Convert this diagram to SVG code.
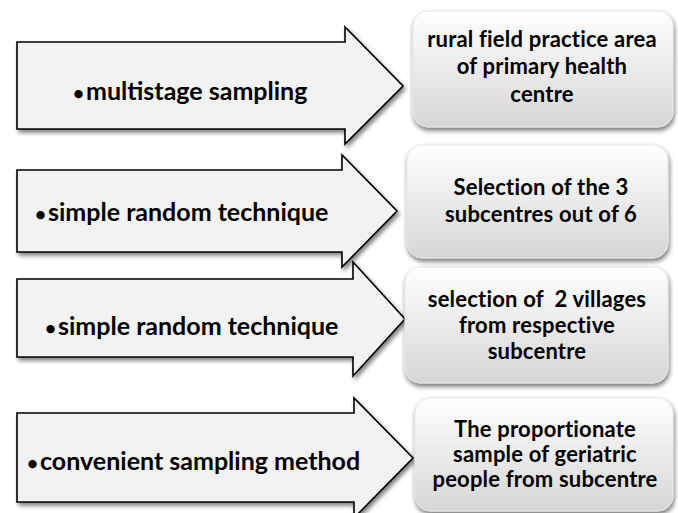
<svg xmlns="http://www.w3.org/2000/svg" width="678" height="513" viewBox="0 0 678 513">
<style>
.arrow{fill:#f2f2f2;stroke:#000;stroke-width:1.6;stroke-linejoin:miter;filter:url(#sh)}
.box{fill:url(#g);stroke:#e6e6e6;stroke-width:1;filter:url(#sh2)}
.at{font-family:Lato,"Liberation Sans",sans-serif;font-weight:bold;font-size:25px;fill:#000}
.bu{font-size:19px}
.bt{font-family:Lato,"Liberation Sans",sans-serif;font-weight:bold;font-size:22px;fill:#000;text-anchor:middle;letter-spacing:0.2px}
</style>
<defs>
<linearGradient id="g" x1="0" y1="0" x2="0" y2="1">
<stop offset="0" stop-color="#ffffff"/>
<stop offset="1" stop-color="#d6d6d6"/>
</linearGradient>
<filter id="sh" x="-10%" y="-10%" width="130%" height="140%">
<feGaussianBlur in="SourceAlpha" stdDeviation="2"/>
<feOffset dx="2" dy="3" result="b"/>
<feComponentTransfer><feFuncA type="linear" slope="0.5"/></feComponentTransfer>
<feMerge><feMergeNode/><feMergeNode in="SourceGraphic"/></feMerge>
</filter>
<filter id="sh2" x="-10%" y="-10%" width="130%" height="140%">
<feGaussianBlur in="SourceAlpha" stdDeviation="2.5"/>
<feOffset dx="1" dy="3" result="b"/>
<feComponentTransfer><feFuncA type="linear" slope="0.55"/></feComponentTransfer>
<feMerge><feMergeNode/><feMergeNode in="SourceGraphic"/></feMerge>
</filter>
</defs>
<rect width="678" height="513" fill="#fff"/>
<g id="connectors">
<g id="arrow1"><polygon class="arrow" points="17,42 345,42 345,27 403,86 345,144 345,129 17,129"/>
<text class="at" x="73" y="100"><tspan class="bu">•</tspan><tspan dx="2">multistage sampling</tspan></text></g>
<g id="arrow2"><polygon class="arrow" points="17,170 342,170 342,155 397,211 342,267 342,252 17,252"/>
<text class="at" x="35" y="221"><tspan class="bu">•</tspan><tspan dx="2">simple random technique</tspan></text></g>
<g id="arrow3"><polygon class="arrow" points="17,279 353,279 353,262 405,319 353,376 353,357 17,357"/>
<text class="at" x="45" y="335"><tspan class="bu">•</tspan><tspan dx="2">simple random technique</tspan></text></g>
<g id="arrow4"><polygon class="arrow" points="17,413 354,413 354,398 413,458 354,518 354,502 17,502"/>
<text class="at" x="27" y="470"><tspan class="bu">•</tspan><tspan dx="2">convenient sampling method</tspan></text></g>
</g>
<g id="box1"><rect class="box" x="413" y="11" width="260" height="116" rx="15"/>
<text class="bt" x="542" y="47">rural field practice area</text>
<text class="bt" x="542" y="74">of primary health</text>
<text class="bt" x="542" y="102">centre</text></g>
<g id="box2"><rect class="box" x="407" y="145" width="261" height="113" rx="15"/>
<text class="bt" x="541" y="195">Selection of the 3</text>
<text class="bt" x="541" y="222">subcentres out of 6</text></g>
<g id="box3"><rect class="box" x="405" y="267" width="263" height="116" rx="15"/>
<text class="bt" x="537" y="307" xml:space="preserve">selection of  2 villages</text>
<text class="bt" x="537" y="333">from respective</text>
<text class="bt" x="537" y="359">subcentre</text></g>
<g id="box4"><rect class="box" x="415" y="398" width="258" height="113" rx="15"/>
<text class="bt" x="545" y="437">The proportionate</text>
<text class="bt" x="545" y="462">sample of geriatric</text>
<text class="bt" x="545" y="487">people from subcentre</text></g>
</svg>
